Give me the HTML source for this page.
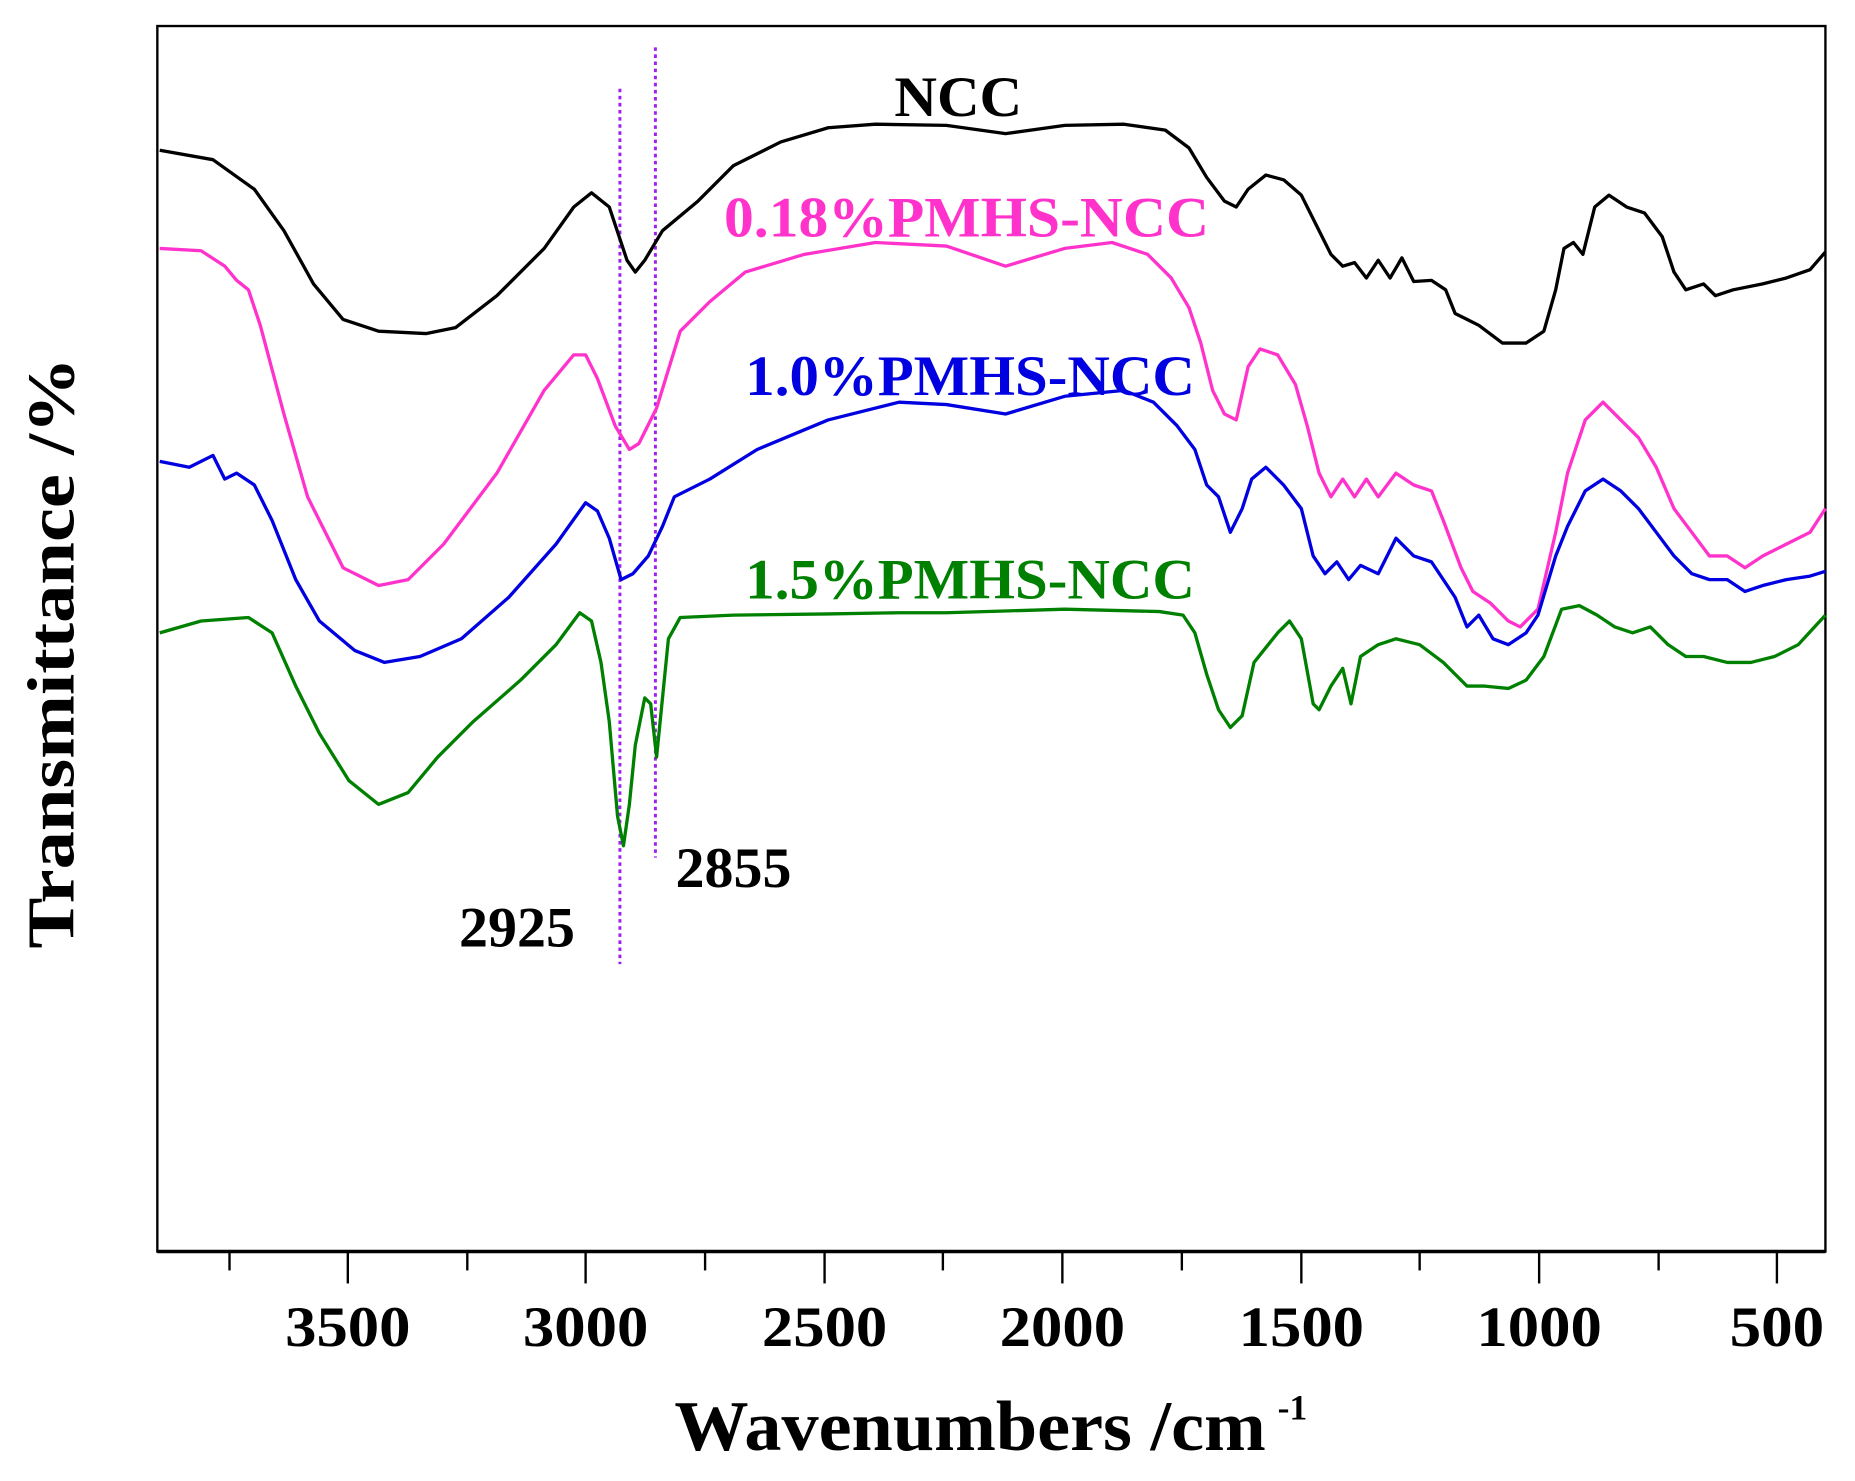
<!DOCTYPE html>
<html><head><style>
html,body{margin:0;padding:0;background:#fff;}
svg{display:block;}
text{font-family:"Liberation Serif",serif;font-weight:bold;}
</style></head><body>
<svg width="1855" height="1481" viewBox="0 0 1568 1252" preserveAspectRatio="none" xmlns="http://www.w3.org/2000/svg">
<rect x="133" y="22" width="1410" height="1036" fill="none" stroke="#000" stroke-width="2"/>
<line x1="133" y1="1058" x2="1543" y2="1058" stroke="#000" stroke-width="3"/>
<g stroke="#000" stroke-width="2">
<line x1="294" y1="1058" x2="294" y2="1085"/><line x1="495" y1="1058" x2="495" y2="1085"/><line x1="697" y1="1058" x2="697" y2="1085"/><line x1="898" y1="1058" x2="898" y2="1085"/><line x1="1100" y1="1058" x2="1100" y2="1085"/><line x1="1301" y1="1058" x2="1301" y2="1085"/><line x1="1502" y1="1058" x2="1502" y2="1085"/>
<line x1="194" y1="1058" x2="194" y2="1074"/><line x1="395" y1="1058" x2="395" y2="1074"/><line x1="596" y1="1058" x2="596" y2="1074"/><line x1="797" y1="1058" x2="797" y2="1074"/><line x1="999" y1="1058" x2="999" y2="1074"/><line x1="1200" y1="1058" x2="1200" y2="1074"/><line x1="1402" y1="1058" x2="1402" y2="1074"/>
</g>
<g font-size="48" text-anchor="middle">
<text x="294" y="1138" textLength="106" lengthAdjust="spacingAndGlyphs">3500</text><text x="495" y="1138" textLength="106" lengthAdjust="spacingAndGlyphs">3000</text><text x="697" y="1138" textLength="106" lengthAdjust="spacingAndGlyphs">2500</text><text x="898" y="1138" textLength="106" lengthAdjust="spacingAndGlyphs">2000</text><text x="1100" y="1138" textLength="106" lengthAdjust="spacingAndGlyphs">1500</text><text x="1301" y="1138" textLength="106" lengthAdjust="spacingAndGlyphs">1000</text><text x="1502" y="1138" textLength="80" lengthAdjust="spacingAndGlyphs">500</text>
</g>
<text x="570" y="1226" font-size="60" textLength="500" lengthAdjust="spacingAndGlyphs">Wavenumbers /cm</text>
<text x="1080" y="1200" font-size="30">-1</text>
<text transform="translate(62,552) rotate(-90)" font-size="56" text-anchor="middle" textLength="500" lengthAdjust="spacingAndGlyphs">Transmittance /%</text>
<g stroke="#a020f0" stroke-width="2.5" stroke-dasharray="3,3">
<line x1="524" y1="75" x2="524" y2="815"/><line x1="554" y1="40" x2="554" y2="725"/>
</g>
<g fill="none" stroke-width="2.8" stroke-linejoin="round">
<polyline stroke="#000" points="135,127 180,135 215,160 240,195 265,240 290,270 320,280 360,282 385,277 420,250 460,210 485,175 500,163 515,175 530,220 537,230 545,220 560,195 590,170 620,140 660,120 700,108 740,105 800,106 850,113 900,106 950,105 985,110 1005,125 1020,150 1035,170 1045,175 1055,160 1070,148 1085,152 1100,165 1110,185 1125,215 1135,225 1145,222 1155,235 1165,220 1175,235 1185,218 1195,238 1210,237 1222,245 1230,265 1240,270 1250,275 1270,290 1290,290 1305,280 1315,245 1322,210 1330,205 1338,215 1348,175 1360,165 1375,175 1390,180 1405,200 1415,230 1425,245 1440,240 1450,250 1465,245 1490,240 1510,235 1530,228 1543,213"/>
<polyline stroke="#ff33cc" points="135,210 170,212 190,225 200,237 210,245 220,275 240,350 260,420 290,480 320,495 345,490 375,460 420,400 460,330 485,300 495,300 505,320 520,360 532,380 540,375 555,345 575,280 600,255 630,230 680,215 740,205 800,208 850,225 900,210 940,205 970,215 990,235 1005,260 1015,290 1025,330 1035,350 1045,355 1055,310 1065,295 1080,300 1095,325 1105,360 1115,400 1125,420 1135,405 1145,420 1155,405 1165,420 1180,400 1195,410 1210,415 1220,440 1235,480 1245,500 1260,510 1275,525 1285,530 1300,515 1315,450 1325,400 1340,355 1355,340 1370,355 1385,370 1400,395 1415,430 1430,450 1445,470 1460,470 1475,480 1490,470 1510,460 1530,450 1543,430"/>
<polyline stroke="#0000e0" points="135,390 160,395 180,385 190,405 200,400 215,410 230,440 250,490 270,525 300,550 325,560 355,555 390,540 430,505 470,460 495,425 505,432 515,455 525,490 535,485 548,470 560,445 570,420 600,405 640,380 700,355 760,340 800,342 850,350 900,335 950,330 975,340 995,360 1010,380 1020,410 1030,420 1040,450 1050,430 1058,405 1070,395 1085,410 1100,430 1110,470 1120,485 1130,475 1140,490 1150,478 1165,485 1180,455 1195,470 1210,475 1220,490 1230,505 1240,530 1250,520 1262,540 1275,545 1290,535 1300,520 1315,470 1325,445 1340,415 1355,405 1370,415 1385,430 1400,450 1415,470 1430,485 1445,490 1460,490 1475,500 1490,495 1510,490 1530,487 1543,483"/>
<polyline stroke="#008000" points="135,535 170,525 210,522 230,535 250,580 270,620 295,660 320,680 345,670 370,640 400,610 440,575 470,545 490,518 500,525 508,560 515,610 522,690 527,715 532,680 537,630 545,590 550,595 555,640 558,610 565,540 575,522 620,520 700,519 760,518 800,518 900,515 980,517 1000,520 1010,535 1020,570 1030,600 1040,615 1050,605 1060,560 1080,535 1090,525 1100,540 1110,595 1115,600 1125,580 1135,565 1142,595 1150,555 1165,545 1180,540 1200,545 1220,560 1230,570 1240,580 1255,580 1275,582 1290,575 1305,555 1320,515 1335,512 1350,520 1365,530 1380,535 1395,530 1410,545 1425,555 1440,555 1460,560 1480,560 1500,555 1520,545 1543,520"/>
</g>
<g font-size="48" text-anchor="middle">
<text x="810" y="98" textLength="108" lengthAdjust="spacingAndGlyphs">NCC</text>
<text x="817" y="200" fill="#ff33cc" textLength="410" lengthAdjust="spacingAndGlyphs">0.18%PMHS-NCC</text>
<text x="820" y="334" fill="#0000e0" textLength="380" lengthAdjust="spacingAndGlyphs">1.0%PMHS-NCC</text>
<text x="820" y="506" fill="#008000" textLength="380" lengthAdjust="spacingAndGlyphs">1.5%PMHS-NCC</text>
<text x="620" y="750" textLength="98" lengthAdjust="spacingAndGlyphs">2855</text>
<text x="437" y="800" textLength="98" lengthAdjust="spacingAndGlyphs">2925</text>
</g>
</svg>
</body></html>
